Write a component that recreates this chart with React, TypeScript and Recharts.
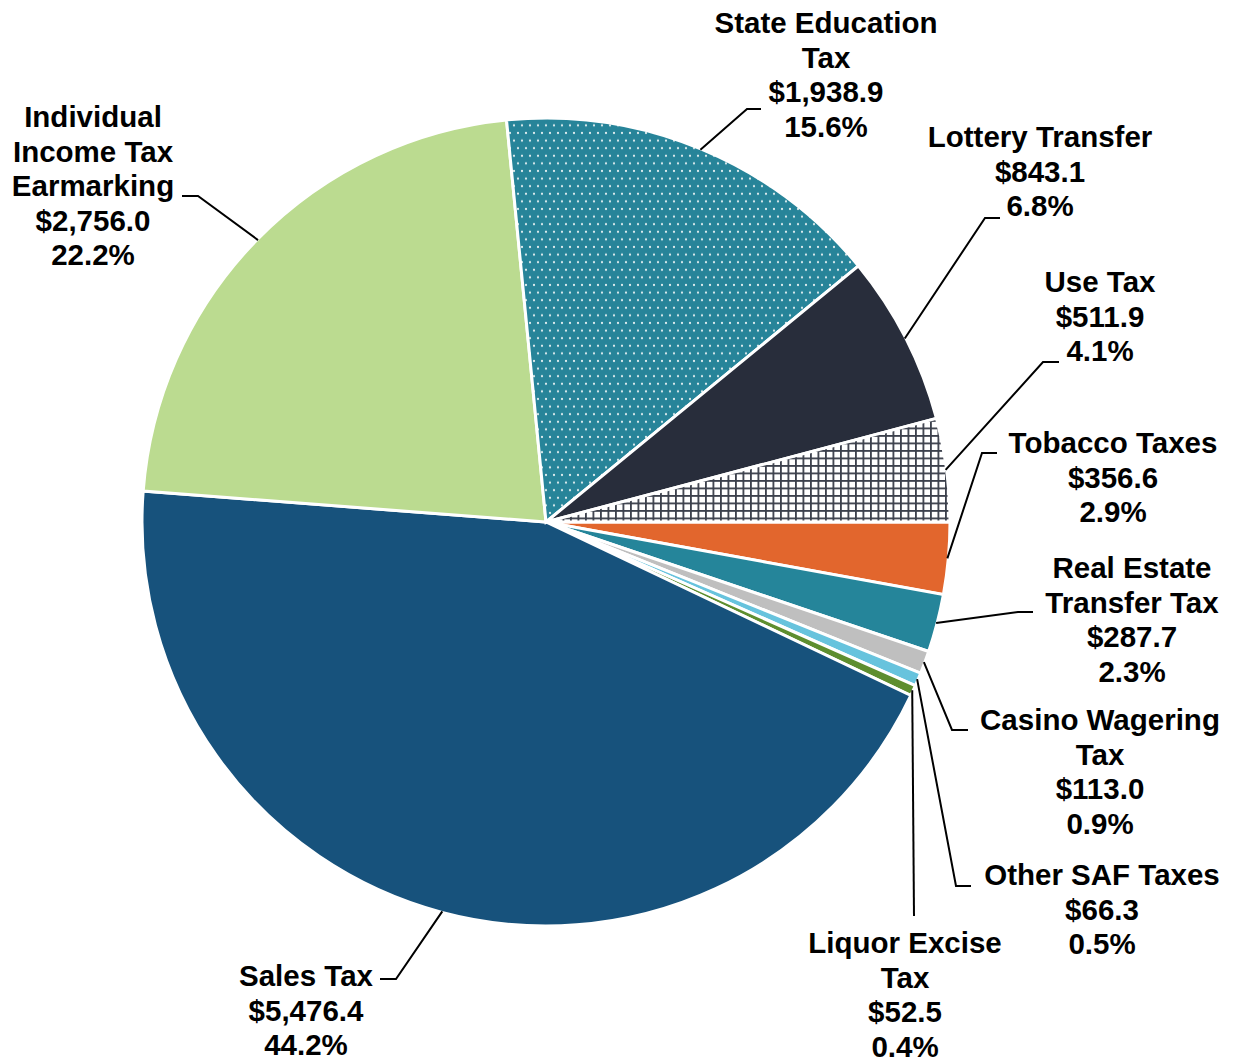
import { PieChart, Pie, Cell } from "recharts";
import type { CSSProperties } from "react";

// slices clockwise from 3 o'clock
const categories = [
  "Tobacco Taxes",
  "Real Estate Transfer Tax",
  "Casino Wagering Tax",
  "Other SAF Taxes",
  "Liquor Excise Tax",
  "Sales Tax",
  "Individual Income Tax Earmarking",
  "State Education Tax",
  "Lottery Transfer",
  "Use Tax",
];

// how each category name is broken over lines
const nameLines = [
  ["Tobacco Taxes"],
  ["Real Estate", "Transfer Tax"],
  ["Casino Wagering", "Tax"],
  ["Other SAF Taxes"],
  ["Liquor Excise", "Tax"],
  ["Sales Tax"],
  ["Individual", "Income Tax", "Earmarking"],
  ["State Education", "Tax"],
  ["Lottery Transfer"],
  ["Use Tax"],
];

// $ millions
const amounts = [356.6, 287.7, 113.0, 66.3, 52.5, 5476.4, 2756.0, 1938.9, 843.1, 511.9];

const COLORS = [
  "#E2662D",
  "#25859A",
  "#BFBFBF",
  "#67C3DD",
  "#5E8E2F",
  "#17527C",
  "#BBDB90",
  "url(#dots)",
  "#282D3B",
  "url(#grid)",
];

const pieData = categories.map((name, i) => ({ name, value: amounts[i] }));

// label placement: text centre x, first baseline y, elbow + end of the leader line
const labelLayout: Record<string, { x: number; y: number; elbow: [number, number]; end: [number, number] }> = {
  "Tobacco Taxes": { x: 1113, y: 453, elbow: [982, 453], end: [997, 453] },
  "Real Estate Transfer Tax": { x: 1132, y: 578, elbow: [1018, 612], end: [1033, 612] },
  "Casino Wagering Tax": { x: 1100, y: 730, elbow: [952, 730], end: [968, 730] },
  "Other SAF Taxes": { x: 1102, y: 885, elbow: [956, 886], end: [971, 886] },
  "Liquor Excise Tax": { x: 905, y: 953, elbow: [914, 916], end: [914, 916] },
  "Sales Tax": { x: 306, y: 986, elbow: [396, 979], end: [380, 979] },
  "Individual Income Tax Earmarking": { x: 93, y: 127, elbow: [198, 196], end: [182, 196] },
  "State Education Tax": { x: 826, y: 33, elbow: [747, 109], end: [761, 109] },
  "Lottery Transfer": { x: 1040, y: 147, elbow: [985, 218], end: [1000, 218] },
  "Use Tax": { x: 1100, y: 292, elbow: [1043, 362], end: [1059, 362] },
};

const RAD = Math.PI / 180;
const LINE_H = 34.5;

const textStyle: CSSProperties = {
  fontFamily: "'Liberation Sans', Arial, sans-serif",
  fontWeight: 700,
  fontSize: 29.5,
};

const fmtMoney = (v: number) =>
  "$" + v.toLocaleString("en-US", { minimumFractionDigits: 1, maximumFractionDigits: 1 });

const renderLabel = (props: any) => {
  const { cx, cy, midAngle, outerRadius, index, percent, value } = props;
  const name = categories[index];
  const lay = labelLayout[name];
  const sx = cx + (outerRadius - 1) * Math.cos(-midAngle * RAD);
  const sy = cy + (outerRadius - 1) * Math.sin(-midAngle * RAD);
  const lines = [...nameLines[index], fmtMoney(value), (percent * 100).toFixed(1) + "%"];
  return (
    <g key={`lbl-${index}`}>
      <polyline
        points={`${sx},${sy} ${lay.elbow[0]},${lay.elbow[1]} ${lay.end[0]},${lay.end[1]}`}
        fill="none"
        stroke="#000"
        strokeWidth={2}
      />
      <text x={lay.x} y={lay.y} textAnchor="middle" fill="#000" style={textStyle}>
        {lines.map((t, i) => (
          <tspan key={i} x={lay.x} y={lay.y + i * LINE_H}>
            {t}
          </tspan>
        ))}
      </text>
    </g>
  );
};

export default function App() {
  return (
    <div style={{ position: "absolute", left: 0, top: 0, width: 1238, height: 1062, background: "#fff" }}>
      <svg width={0} height={0} style={{ position: "absolute" }}>
        <defs>
          <pattern id="dots" width={8} height={15.2} patternUnits="userSpaceOnUse">
            <rect width={8} height={15.2} fill="#278499" />
            <circle cx={2} cy={3.8} r={1.1} fill="#E6F0F2" />
            <circle cx={6} cy={11.4} r={1.1} fill="#E6F0F2" />
          </pattern>
          <pattern id="grid" width={7.5} height={7.5} patternUnits="userSpaceOnUse">
            <rect width={7.5} height={7.5} fill="#fff" />
            <rect x={0} y={0} width={1.8} height={7.5} fill="#3B404C" />
            <rect x={0} y={0} width={7.5} height={1.8} fill="#3B404C" />
          </pattern>
        </defs>
      </svg>
      <PieChart width={1238} height={1062} margin={{ top: 0, right: 0, bottom: 0, left: 0 }}>
        <Pie
          data={pieData}
          dataKey="value"
          nameKey="name"
          cx={546}
          cy={522}
          outerRadius={404}
          startAngle={0}
          endAngle={-360}
          stroke="#fff"
          strokeWidth={3}
          label={renderLabel}
          labelLine={false}
          isAnimationActive={false}
        >
          {pieData.map((_, i) => (
            <Cell key={i} fill={COLORS[i]} />
          ))}
        </Pie>
      </PieChart>
    </div>
  );
}
